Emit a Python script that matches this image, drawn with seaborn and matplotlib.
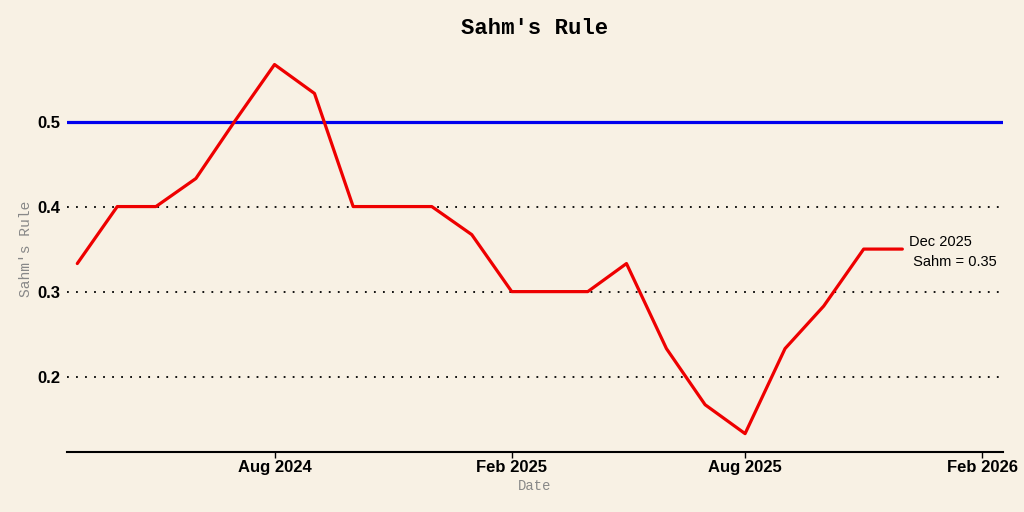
import pandas as pd
import matplotlib
matplotlib.use("Agg")
import matplotlib.pyplot as plt
import matplotlib.dates as mdates
import seaborn as sns

# === Data ===
months = ["2024-03", "2024-04", "2024-05", "2024-06", "2024-07", "2024-08",
          "2024-09", "2024-10", "2024-11", "2024-12", "2025-01", "2025-02",
          "2025-03", "2025-04", "2025-05", "2025-06", "2025-07", "2025-08",
          "2025-09", "2025-10", "2025-11", "2025-12"]
sahm = [0.333, 0.400, 0.400, 0.433, 0.500, 0.567, 0.533, 0.400, 0.400, 0.400,
        0.367, 0.300, 0.300, 0.300, 0.333, 0.233, 0.167, 0.133, 0.233, 0.283,
        0.350, 0.350]
threshold = 0.5
grid_levels = [0.2, 0.3, 0.4]
tick_dates = ["2024-08-01", "2025-02-01", "2025-08-01", "2026-02-01"]

df = pd.DataFrame({"Date": pd.to_datetime(months), "Sahm": sahm})

# === Style ===
bg = "#f8f1e4"
sns.set_theme(style="white", rc={"axes.facecolor": bg, "figure.facecolor": bg})
plt.rcParams["font.family"] = ["Liberation Sans", "DejaVu Sans"]

fig = plt.figure(figsize=(10.24, 5.12), dpi=100)
ax = fig.add_axes([0.0654, 0.117, 0.914, 0.793])

# grid lines and threshold
for lvl in grid_levels:
    ax.axhline(lvl, color="black", lw=1.3, linestyle=(0, (1, 4)), zorder=1)
ax.axhline(threshold, color="#0000ee", lw=2.3, zorder=2)

sns.lineplot(data=df, x="Date", y="Sahm", color="#ee0000", lw=2.3, ax=ax, zorder=3)

last = df.iloc[-1]
ax.annotate(f"{last['Date']:%b %Y}\n Sahm = {last['Sahm']:.2f}",
            xy=(last["Date"], last["Sahm"]), xytext=(5, -2),
            textcoords="offset points", va="center", ha="left",
            fontsize=10.5, color="black", linespacing=1.55)

# axes limits and ticks
ax.set_xlim(pd.Timestamp("2024-02-22"), pd.Timestamp("2026-02-17"))
ax.set_xticks(pd.to_datetime(tick_dates))
ax.xaxis.set_major_formatter(mdates.DateFormatter("%b %Y"))
ax.set_yticks([0.2, 0.3, 0.4, 0.5])
ax.set_yticklabels(["0.2", "0.3", "0.4", "0.5"])

for lab in ax.get_xticklabels() + ax.get_yticklabels():
    lab.set_fontweight("bold")
    lab.set_fontsize(12)
    lab.set_color("black")
ax.tick_params(axis="x", length=4, width=1, color="black", pad=2, bottom=True)
ax.tick_params(axis="y", length=0, pad=5)

sns.despine(ax=ax, left=True, top=True, right=True)
ax.spines["bottom"].set_color("black")
ax.spines["bottom"].set_linewidth(1.5)

mono = ["Liberation Mono", "DejaVu Sans Mono"]
ax.set_title("Sahm's Rule", family=mono, fontweight="bold", fontsize=16,
             pad=9, color="black")
ax.set_xlabel("Date", family=mono, fontsize=10, color="#888888", labelpad=2.5)
ax.set_ylabel("Sahm's Rule", family=mono, fontsize=10.5, color="#888888", labelpad=3)

fig.savefig("out.png", dpi=100, facecolor=bg)
